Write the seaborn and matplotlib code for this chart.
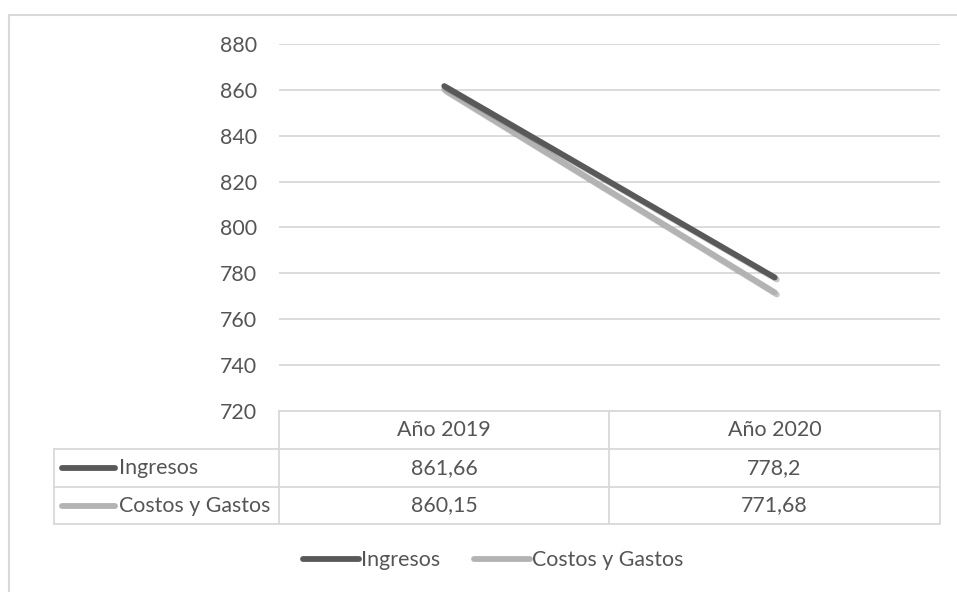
import matplotlib
matplotlib.use("Agg")
import matplotlib.pyplot as plt
import matplotlib.patheffects as pe
from matplotlib.lines import Line2D
import seaborn as sns
import pandas as pd

categories = ["Año 2019", "Año 2020"]
series_names = ["Ingresos", "Costos y Gastos"]
ingresos = [861.66, 778.2]
costos = [860.15, 771.68]
ingresos_labels = ["861,66", "778,2"]
costos_labels = ["860,15", "771,68"]
yticks = [720, 740, 760, 780, 800, 820, 840, 860, 880]

colors = {"Ingresos": "#595959", "Costos y Gastos": "#b3b3b3"}
text_color = "#555555"
grid_color = "#d9d9d9"
FONT = "Lato"
FS = 15.4

sns.set_theme(style="white")
plt.rcParams["font.family"] = [FONT, "DejaVu Sans"]

W, H = 957, 592
fig = plt.figure(figsize=(W / 100, H / 100), dpi=100)

def fx(px):
    return px / W

def fy(py):
    return 1 - py / H

ax_left, ax_right, ax_top, ax_bottom = 279, 940, 44, 411
ax = fig.add_axes([fx(ax_left), fy(ax_bottom), fx(ax_right - ax_left), (ax_bottom - ax_top) / H])

df = pd.DataFrame({
    "x": list(range(len(categories))) * 2,
    "valor": ingresos + costos,
    "serie": [series_names[0]] * len(categories) + [series_names[1]] * len(categories),
})

sns.lineplot(data=df, x="x", y="valor", hue="serie", palette=colors, ax=ax,
             linewidth=4.2, legend=False, hue_order=series_names[::-1])
for ln in ax.lines:
    ln.set_solid_capstyle("round")
    ln.set_path_effects([pe.SimpleLineShadow(offset=(1.5, -1.5), shadow_color="#000000", alpha=0.22),
                         pe.Normal()])

ax.set_xlim(-0.5, len(categories) - 0.5)
ax.set_ylim(720, 880)
ax.set_yticks(yticks)
ax.set_yticklabels([str(v) for v in yticks], fontsize=FS, color=text_color)
ax.tick_params(axis="y", length=0, pad=16)
ax.set_xticks([])
ax.set_xlabel("")
ax.set_ylabel("")
for s in ax.spines.values():
    s.set_visible(False)
ax.yaxis.grid(True, color=grid_color, linewidth=1.3)
ax.set_axisbelow(True)
ax.patch.set_alpha(0)

# Outer chart border (left and top visible)
fig.add_artist(Line2D([fx(9), fx(9)], [fy(15), 0], transform=fig.transFigure, color=grid_color, lw=1.5))
fig.add_artist(Line2D([fx(9), 1], [fy(15), fy(15)], transform=fig.transFigure, color=grid_color, lw=1.5))

# Data table
tbl_left, col1, col2, tbl_right = 54, 279, 609, 940
r0, r1, r2, r3 = 411, 449, 487, 524
tkw = dict(transform=fig.transFigure, color=grid_color, lw=1.3)
fig.add_artist(Line2D([fx(col1), fx(tbl_right)], [fy(r0), fy(r0)], **tkw))
for yy in (r1, r2, r3):
    fig.add_artist(Line2D([fx(tbl_left), fx(tbl_right)], [fy(yy), fy(yy)], **tkw))
for xx in (col1, col2, tbl_right):
    fig.add_artist(Line2D([fx(xx), fx(xx)], [fy(r0), fy(r3)], **tkw))
fig.add_artist(Line2D([fx(tbl_left), fx(tbl_left)], [fy(r1), fy(r3)], **tkw))

centers = [(col1 + col2) / 2, (col2 + tbl_right) / 2]
for cx, cat in zip(centers, categories):
    fig.text(fx(cx), fy((r0 + r1) / 2), cat, ha="center", va="center", fontsize=FS, color=text_color)
rows = [(series_names[0], ingresos_labels, (r1 + r2) / 2), (series_names[1], costos_labels, (r2 + r3) / 2)]
for name, labels, cy in rows:
    fig.add_artist(Line2D([fx(62), fx(115)], [fy(cy), fy(cy)], transform=fig.transFigure,
                          color=colors[name], lw=4.2, solid_capstyle="round"))
    fig.text(fx(119), fy(cy), name, ha="left", va="center", fontsize=FS, color=text_color)
    for cx, lab in zip(centers, labels):
        fig.text(fx(cx), fy(cy), lab, ha="center", va="center", fontsize=FS, color=text_color)

# Legend
handles = [Line2D([0], [0], color=colors[n], lw=4.2, solid_capstyle="round") for n in series_names]
fig.legend(handles, series_names, loc="center", bbox_to_anchor=(fx(493), fy(560)), ncol=2,
           frameon=False, fontsize=FS, handlelength=2.6, handletextpad=0.1, columnspacing=1.6,
           labelcolor=text_color)

fig.savefig("out.png", dpi=100, facecolor="white")
